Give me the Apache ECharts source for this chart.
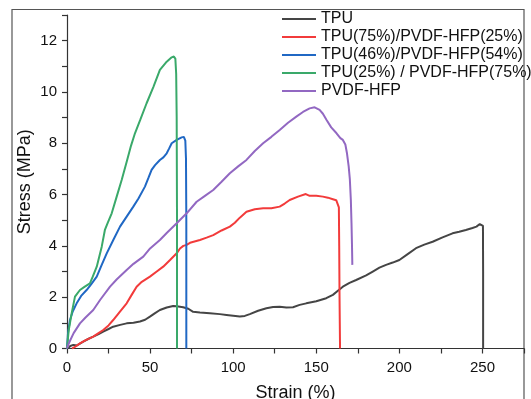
<!DOCTYPE html>
<html>
<head>
<meta charset="utf-8">
<script src="https://cdn.jsdelivr.net/npm/echarts@6/dist/echarts.min.js"></script>
<style>html,body{margin:0;padding:0;background:#fff;overflow:hidden;}#c{width:531px;height:399px;}</style>
</head>
<body>
<div id="c"></div>
<script>
const seriesNames = ['TPU', 'TPU(75%)/PVDF-HFP(25%)', 'TPU(46%)/PVDF-HFP(54%)', 'TPU(25%) / PVDF-HFP(75%)', 'PVDF-HFP'];
const xTicks = [0, 50, 100, 150, 200, 250];
const yTicks = [0, 2, 4, 6, 8, 10, 12];

const tpu = [[0.8,0],[2,0.1],[3.8,0.14],[6,0.12],[9.8,0.27],[13,0.38],[15.8,0.46],[19,0.56],[21.8,0.66],[25,0.76],[27.8,0.85],[32,0.92],[35.9,0.98],[40,1.0],[43.9,1.05],[47,1.12],[49.9,1.24],[53,1.38],[55.9,1.5],[60,1.6],[63.9,1.66],[66,1.65],[69.9,1.61],[73,1.55],[75.9,1.43],[80,1.4],[86,1.37],[92,1.34],[96,1.31],[100,1.28],[104,1.25],[107,1.27],[110,1.34],[115,1.47],[120,1.57],[124,1.62],[128,1.63],[132,1.6],[136,1.61],[140,1.7],[144,1.76],[150,1.84],[156,1.96],[160,2.09],[163,2.25],[166,2.41],[170,2.56],[174,2.67],[180,2.85],[184,3.0],[188,3.15],[192,3.26],[196,3.35],[200,3.45],[205,3.68],[210,3.91],[215,4.05],[220,4.16],[226,4.33],[232,4.49],[236,4.55],[240,4.62],[244,4.7],[246.4,4.75],[248.4,4.85],[249.5,4.83],[250.3,4.78],[250.4,3],[250.4,0]];

const tpu75 = [[3,0],[4.5,0.05],[7.8,0.2],[11,0.32],[15.8,0.46],[18.5,0.58],[21.8,0.72],[25,0.9],[27.8,1.11],[32,1.45],[35.9,1.76],[39,2.1],[41.9,2.41],[45,2.6],[49.9,2.8],[54,3.0],[57.9,3.19],[62,3.45],[66,3.71],[68,3.9],[70,4.0],[72,4.04],[74,4.12],[80,4.23],[84,4.32],[88,4.42],[93,4.6],[98,4.75],[101,4.9],[104,5.1],[108,5.33],[113,5.43],[118,5.47],[123,5.47],[128,5.53],[131,5.65],[134,5.79],[139,5.92],[143.7,6.02],[146,5.95],[150,5.95],[154,5.92],[157,5.88],[160,5.82],[162,5.78],[163.1,5.72],[163.6,5.5],[163.8,4],[164,2],[164.3,0]];

const tpu46 = [[0,0],[0.6,0.6],[1.8,1.11],[3.5,1.45],[5.8,1.76],[8.5,2.05],[11.8,2.28],[14.5,2.5],[17.9,2.8],[20.5,3.2],[23.9,3.71],[28,4.25],[31.9,4.75],[36,5.15],[39.9,5.53],[43,5.85],[46.9,6.31],[49,6.65],[50.9,6.96],[53,7.15],[55.9,7.35],[58,7.45],[60,7.61],[61.5,7.8],[63,8.0],[66,8.13],[69,8.23],[70.3,8.25],[71.2,8.1],[71.6,7.4],[71.8,5],[71.8,0]];

const tpu25 = [[0,0],[1,0.7],[2.8,1.37],[4.8,2.02],[7.8,2.28],[10.5,2.4],[13.8,2.54],[15.5,2.8],[17.9,3.19],[20.9,3.97],[22.8,4.62],[24.5,4.9],[26.9,5.27],[29.9,5.92],[32.9,6.57],[36,7.3],[38.5,7.9],[40.9,8.39],[44,8.9],[47.9,9.56],[52,10.2],[55.9,10.86],[57,10.9],[60,11.18],[63,11.35],[64.3,11.38],[65.2,11.3],[65.7,10.7],[66,9],[66.2,5],[66.2,0]];

const pvdf = [[0,0],[0.8,0.15],[1.8,0.3],[4,0.6],[7.8,0.98],[11,1.2],[15.8,1.5],[20,1.9],[25.9,2.41],[30,2.7],[35.9,3.06],[40,3.3],[45.9,3.58],[50,3.9],[55.9,4.23],[60,4.5],[66,4.88],[72,5.27],[78,5.72],[83,5.95],[88,6.18],[93,6.5],[98,6.83],[103,7.1],[108,7.35],[113,7.7],[118,8.0],[123,8.25],[128,8.52],[133,8.8],[138,9.04],[142,9.22],[146,9.36],[149,9.4],[152,9.3],[154,9.15],[156.2,8.91],[159,8.62],[162.2,8.39],[164.5,8.2],[166,8.13],[167.5,7.95],[168.5,7.6],[169.5,7.1],[170.2,6.6],[170.8,5.8],[171.2,4.88],[171.5,4],[171.7,3.26]];

const dataSets = [tpu, tpu75, tpu46, tpu25, pvdf];
const colors = ['#454545', '#f23b3b', '#2068c4', '#3aa96a', '#9268c2'];

const font = 'Liberation Sans, Arial, sans-serif';
const chart = echarts.init(document.getElementById('c'), null, {renderer: 'canvas'});
chart.setOption({
  animation: false,
  backgroundColor: '#fff',
  color: colors,
  graphic: [{
    type: 'rect', shape: {x: 12, y: 9.5, width: 512, height: 400},
    style: {fill: 'none', stroke: '#555', lineWidth: 1.2}, z: -1
  }],
  grid: {left: 67, right: 7, top: 15, bottom: 50.5, containLabel: false, outerBoundsMode: 'none'},
  legend: {
    show: true, orient: 'vertical', left: 277, top: 6,
    icon: 'rect', itemWidth: 34, itemHeight: 2, itemGap: 2,
    textStyle: {fontFamily: font, fontSize: 16, color: '#111', lineHeight: 16},
    data: seriesNames
  },
  xAxis: {
    type: 'value', min: 0, max: 275, interval: 25,
    name: 'Strain (%)', nameLocation: 'middle', nameGap: 36, nameMoveOverlap: false,
    nameTextStyle: {fontFamily: font, fontSize: 18, color: '#111'},
    axisLine: {lineStyle: {color: '#333', width: 1.2}},
    axisTick: {show: true, length: 5, lineStyle: {color: '#333', width: 1.2}},
    axisLabel: {fontFamily: font, fontSize: 15, color: '#111', margin: 12,
      formatter: v => xTicks.indexOf(v) >= 0 ? String(v) : ''},
    splitLine: {show: false}
  },
  yAxis: {
    type: 'value', min: 0, max: 13, interval: 1,
    name: 'Stress (MPa)', nameLocation: 'middle', nameGap: 33, nameRotate: 90, nameMoveOverlap: false,
    nameTextStyle: {fontFamily: font, fontSize: 18, color: '#111'},
    axisLine: {show: true, lineStyle: {color: '#333', width: 1.2}},
    axisTick: {show: true, length: 5, lineStyle: {color: '#333', width: 1.2}},
    axisLabel: {fontFamily: font, fontSize: 15, color: '#111', margin: 10,
      formatter: v => yTicks.indexOf(v) >= 0 ? String(v) : ''},
    splitLine: {show: false}
  },
  series: dataSets.map((d, i) => ({
    name: seriesNames[i], type: 'line', data: d, symbol: 'none', showSymbol: false,
    lineStyle: {color: colors[i], width: 2}, itemStyle: {color: colors[i]},
    z: 2 + i
  }))
});
</script>
</body>
</html>
